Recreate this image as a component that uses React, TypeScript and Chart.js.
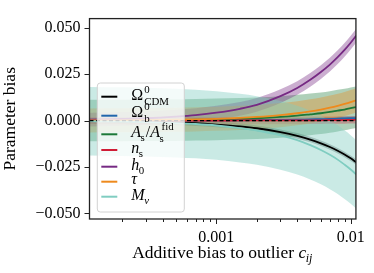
import React, { useEffect, useRef } from 'react';
import { Chart, registerables } from 'chart.js';

Chart.register(...registerables);

// ---------- data ----------
const biasLevels = [1.1e-4, 2e-4, 3e-4, 5e-4, 7e-4, 1e-3, 1.5e-3, 2e-3, 3e-3, 4e-3, 5e-3, 6e-3, 7e-3, 8e-3, 9e-3, 1e-2, 1.1e-2];

const omegaCdmBias = [-0.0002, -0.0004, -0.0006, -0.0010, -0.0014, -0.0021, -0.0031, -0.0041, -0.0062, -0.0082, -0.0102, -0.0122, -0.0142, -0.0162, -0.0182, -0.0203, -0.0224];
const omegaBBias = [0.0000, 0.0000, 0.0000, 0.0001, 0.0001, 0.0001, 0.0002, 0.0003, 0.0004, 0.0005, 0.0007, 0.0008, 0.0009, 0.0011, 0.0012, 0.0013, 0.0014];
const asBias = [0.0001, 0.0001, 0.0002, 0.0003, 0.0005, 0.0007, 0.0010, 0.0013, 0.0020, 0.0027, 0.0034, 0.0040, 0.0047, 0.0054, 0.0060, 0.0067, 0.0073];
const nsBias = [0.0000, 0.0000, 0.0000, 0.0000, 0.0000, 0.0000, 0.0001, 0.0001, 0.0001, 0.0001, 0.0002, 0.0002, 0.0003, 0.0003, 0.0003, 0.0004, 0.0004];
const h0Bias = [0.0005, 0.0009, 0.0013, 0.0022, 0.0030, 0.0043, 0.0064, 0.0085, 0.0132, 0.0176, 0.0220, 0.0262, 0.0302, 0.0342, 0.0381, 0.0420, 0.0458];
const tauBias = [0.0001, 0.0002, 0.0003, 0.0005, 0.0007, 0.0010, 0.0015, 0.0020, 0.0030, 0.0040, 0.0050, 0.0060, 0.0070, 0.0080, 0.0090, 0.0100, 0.0110];
const mnuBias = [-0.0003, -0.0005, -0.0008, -0.0013, -0.0018, -0.0026, -0.0040, -0.0053, -0.0079, -0.0105, -0.0132, -0.0158, -0.0184, -0.0210, -0.0237, -0.0263, -0.0290];

// 1-sigma half widths of the shaded bands
const omegaCdmSigma = 0.0015;
const omegaBSigma = 0.001;
const asSigma = 0.0112;
const nsSigma = 0.002;
const h0Sigma = 0.0037;
const tauSigma = 0.0065;
const mnuSigma = 0.0185;

const yTickValues = [-0.05, -0.025, 0, 0.025, 0.05];
const xMajorTicks = [0.001, 0.01];
const xTickLabels = ['0.001', '0.01'];
const xMinorTicks = [2e-4, 3e-4, 4e-4, 5e-4, 6e-4, 7e-4, 8e-4, 9e-4, 2e-3, 3e-3, 4e-3, 5e-3, 6e-3, 7e-3, 8e-3, 9e-3];
const xRange = [1.136e-4, 1.094e-2];
const yRange = [-0.053, 0.055];

const xTitle = 'Additive bias to outlier ';
const yTitle = 'Parameter bias';

type Seg = { t: string; it?: boolean; sub?: { t: string; it?: boolean }; sup?: { t: string; it?: boolean } };

const series: { values: number[]; sigma: number; color: string; band: string; label: Seg[] }[] = [
  { values: omegaCdmBias, sigma: omegaCdmSigma, color: '#000000', band: 'rgba(0,0,0,0.28)', label: [{ t: 'Ω', sup: { t: '0' }, sub: { t: 'CDM' } }] },
  { values: omegaBBias, sigma: omegaBSigma, color: '#2166ac', band: 'rgba(33,102,172,0.35)', label: [{ t: 'Ω', sup: { t: '0' }, sub: { t: 'b' } }] },
  { values: asBias, sigma: asSigma, color: '#1b7837', band: 'rgba(27,120,55,0.35)', label: [{ t: 'A', it: true, sub: { t: 's' } }, { t: '/' }, { t: 'A', it: true, sup: { t: 'fid' }, sub: { t: 's' } }] },
  { values: nsBias, sigma: nsSigma, color: '#d01c36', band: 'rgba(208,28,54,0.3)', label: [{ t: 'n', it: true, sub: { t: 's' } }] },
  { values: h0Bias, sigma: h0Sigma, color: '#762a83', band: 'rgba(118,42,131,0.38)', label: [{ t: 'h', it: true, sub: { t: '0' } }] },
  { values: tauBias, sigma: tauSigma, color: '#ee8a1d', band: 'rgba(238,138,29,0.35)', label: [{ t: 'τ', it: true }] },
  { values: mnuBias, sigma: mnuSigma, color: '#80cdc1', band: 'rgba(128,205,193,0.42)', label: [{ t: 'M', it: true, sub: { t: 'ν', it: true } }] },
];

const FONT = '"Liberation Serif", "Times New Roman", serif';

function fontFor(it: boolean | undefined, size: number) {
  return `${it ? 'italic ' : ''}${size}px ${FONT}`;
}

function mathWidth(ctx: CanvasRenderingContext2D, parts: Seg[], size: number) {
  const scr = size * 0.68;
  let w = 0;
  for (const p of parts) {
    ctx.font = fontFor(p.it, size);
    w += ctx.measureText(p.t).width;
    let sw = 0;
    if (p.sub) { ctx.font = fontFor(p.sub.it, scr); sw = Math.max(sw, ctx.measureText(p.sub.t).width); }
    if (p.sup) { ctx.font = fontFor(p.sup.it, scr); sw = Math.max(sw, ctx.measureText(p.sup.t).width); }
    if (sw) w += sw + (p.it ? 0.5 : 1);
  }
  return w;
}

function drawMath(ctx: CanvasRenderingContext2D, parts: Seg[], x: number, y: number, size: number) {
  const scr = size * 0.68;
  let cx = x;
  ctx.textBaseline = 'alphabetic';
  ctx.textAlign = 'left';
  for (const p of parts) {
    ctx.font = fontFor(p.it, size);
    ctx.fillText(p.t, cx, y);
    cx += ctx.measureText(p.t).width;
    const gap = p.it ? 0.5 : 1;
    let sw = 0;
    if (p.sup) {
      ctx.font = fontFor(p.sup.it, scr);
      ctx.fillText(p.sup.t, cx + gap + (p.it ? 1 : 0), y - size * 0.47);
      sw = Math.max(sw, ctx.measureText(p.sup.t).width);
    }
    if (p.sub) {
      ctx.font = fontFor(p.sub.it, scr);
      const drop = p.sup ? size * 0.3 : size * 0.25;
      ctx.fillText(p.sub.t, cx + gap - (p.it ? 1 : 0), y + drop);
      sw = Math.max(sw, ctx.measureText(p.sub.t).width);
    }
    if (sw) cx += sw + gap;
  }
}

// legend layout (relative to legend box)
const legendRowOffsets = [13.7, 32.7, 51.3, 67, 83.7, 98.7, 113.7];
const legendBaselineShift = [3.5, 1.5, 3, 2.5, 3, 2, 3.5];

const decorPlugin = {
  id: 'decor',
  afterDatasetsDraw(chart: any) {
    const { ctx, chartArea: ca } = chart;
    const bx = ca.left + 7.8;
    const bw = 87;
    const bh = 129;
    const by = ca.bottom - 7 - bh;
    ctx.save();
    ctx.beginPath();
    (ctx as any).roundRect(bx, by, bw, bh, 3);
    ctx.fillStyle = 'rgba(255,255,255,0.8)';
    ctx.fill();
    ctx.strokeStyle = '#d2d2d2';
    ctx.lineWidth = 1;
    ctx.stroke();
    series.forEach((s, i) => {
      const ry = by + legendRowOffsets[i];
      ctx.beginPath();
      ctx.moveTo(bx + 4, ry);
      ctx.lineTo(bx + 20, ry);
      ctx.strokeStyle = s.color;
      ctx.lineWidth = 2;
      ctx.stroke();
      ctx.fillStyle = '#000';
      drawMath(ctx, s.label, bx + 34, ry + legendBaselineShift[i], 16);
    });
    ctx.restore();
  },
  afterDraw(chart: any) {
    const { ctx, chartArea: ca } = chart;
    const xs = chart.scales.x;
    const ys = chart.scales.y;
    ctx.save();
    ctx.strokeStyle = '#222';
    ctx.lineWidth = 1;
    ctx.beginPath();
    for (const v of yTickValues) {
      const py = Math.round(ys.getPixelForValue(v)) + 0.5;
      ctx.moveTo(ca.left - 5, py);
      ctx.lineTo(ca.left, py);
    }
    for (const v of xMajorTicks) {
      const px = Math.round(xs.getPixelForValue(v)) + 0.5;
      ctx.moveTo(px, ca.bottom);
      ctx.lineTo(px, ca.bottom + 5);
    }
    for (const v of xMinorTicks) {
      const px = Math.round(xs.getPixelForValue(v)) + 0.5;
      ctx.moveTo(px, ca.bottom);
      ctx.lineTo(px, ca.bottom + 3);
    }
    ctx.stroke();
    ctx.lineWidth = 1.3;
    ctx.strokeRect(ca.left, ca.top, ca.right - ca.left, ca.bottom - ca.top);
    ctx.fillStyle = '#000';
    const tsize = 17.5;
    const xParts: Seg[] = [{ t: xTitle }, { t: 'c', it: true, sub: { t: 'ij', it: true } }];
    const w = mathWidth(ctx, xParts, tsize);
    drawMath(ctx, xParts, (ca.left + ca.right) / 2 - w / 2, 257.5, tsize);
    ctx.save();
    ctx.translate(15, (ca.top + ca.bottom) / 2);
    ctx.rotate(-Math.PI / 2);
    ctx.font = fontFor(false, tsize);
    ctx.textAlign = 'center';
    ctx.textBaseline = 'alphabetic';
    ctx.fillText(yTitle, 0, 0);
    ctx.restore();
    ctx.restore();
  },
};

export default function App() {
  const ref = useRef<HTMLCanvasElement>(null);
  useEffect(() => {
    document.body.style.margin = '0';
    const canvas = ref.current!;
    const datasets: any[] = [];
    datasets.push({
      data: xRange.map((x) => ({ x, y: 0 })),
      borderColor: '#000',
      borderWidth: 1.2,
      borderDash: [4, 2.5],
      pointRadius: 0,
      fill: false,
    });
    for (let i = series.length - 1; i >= 0; i--) {
      const s = series[i];
      datasets.push({
        data: biasLevels.map((x, k) => ({ x, y: s.values[k] })),
        borderColor: s.color,
        borderWidth: 1.8,
        pointRadius: 0,
        cubicInterpolationMode: 'monotone',
        fill: false,
      });
    }
    for (let i = series.length - 1; i >= 0; i--) {
      const s = series[i];
      datasets.push({
        data: biasLevels.map((x, k) => ({ x, y: s.values[k] + s.sigma })),
        borderWidth: 0,
        borderColor: 'rgba(0,0,0,0)',
        pointRadius: 0,
        cubicInterpolationMode: 'monotone',
        fill: false,
      });
      datasets.push({
        data: biasLevels.map((x, k) => ({ x, y: s.values[k] - s.sigma })),
        borderWidth: 0,
        borderColor: 'rgba(0,0,0,0)',
        backgroundColor: s.band,
        pointRadius: 0,
        cubicInterpolationMode: 'monotone',
        fill: '-1',
      });
    }
    const chart = new Chart(canvas, {
      type: 'line',
      data: { datasets },
      plugins: [decorPlugin],
      options: {
        responsive: false,
        animation: false,
        layout: { padding: { left: 0, right: 16, top: 11, bottom: 0 } },
        plugins: {
          legend: { display: false },
          tooltip: { enabled: false },
          filler: { drawTime: 'beforeDatasetsDraw' },
        } as any,
        scales: {
          x: {
            type: 'logarithmic',
            min: xRange[0],
            max: xRange[1],
            grid: { display: false, drawTicks: false },
            border: { display: false },
            afterFit: (s: any) => { s.height = 54; },
            afterBuildTicks: (s: any) => {
              s.ticks = [...xMinorTicks, ...xMajorTicks].sort((a, b) => a - b).map((v) => ({ value: v }));
            },
            ticks: {
              autoSkip: false,
              maxRotation: 0,
              padding: 9,
              color: '#000',
              font: { family: FONT, size: 16 },
              callback: (v: any) => {
                const idx = xMajorTicks.findIndex((m) => Math.abs(m - Number(v)) / m < 1e-6);
                return idx >= 0 ? xTickLabels[idx] : '';
              },
            },
          },
          y: {
            type: 'linear',
            min: yRange[0],
            max: yRange[1],
            grid: { display: false, drawTicks: false },
            border: { display: false },
            afterFit: (s: any) => { s.width = 89.5; },
            afterBuildTicks: (s: any) => { s.ticks = yTickValues.map((v) => ({ value: v })); },
            ticks: {
              padding: 9,
              color: '#000',
              font: { family: FONT, size: 16 },
              callback: (v: any) => {
                const n = Number(v);
                const t = Math.abs(n).toFixed(3);
                return n < -1e-9 ? '\u2212' + t : t;
              },
            },
          },
        },
      } as any,
    });
    return () => chart.destroy();
  }, []);
  return (
    <div style={{ position: 'fixed', left: 0, top: 0, width: 374, height: 273 }}>
      <canvas ref={ref} width={374} height={273} style={{ display: 'block' }} />
    </div>
  );
}
